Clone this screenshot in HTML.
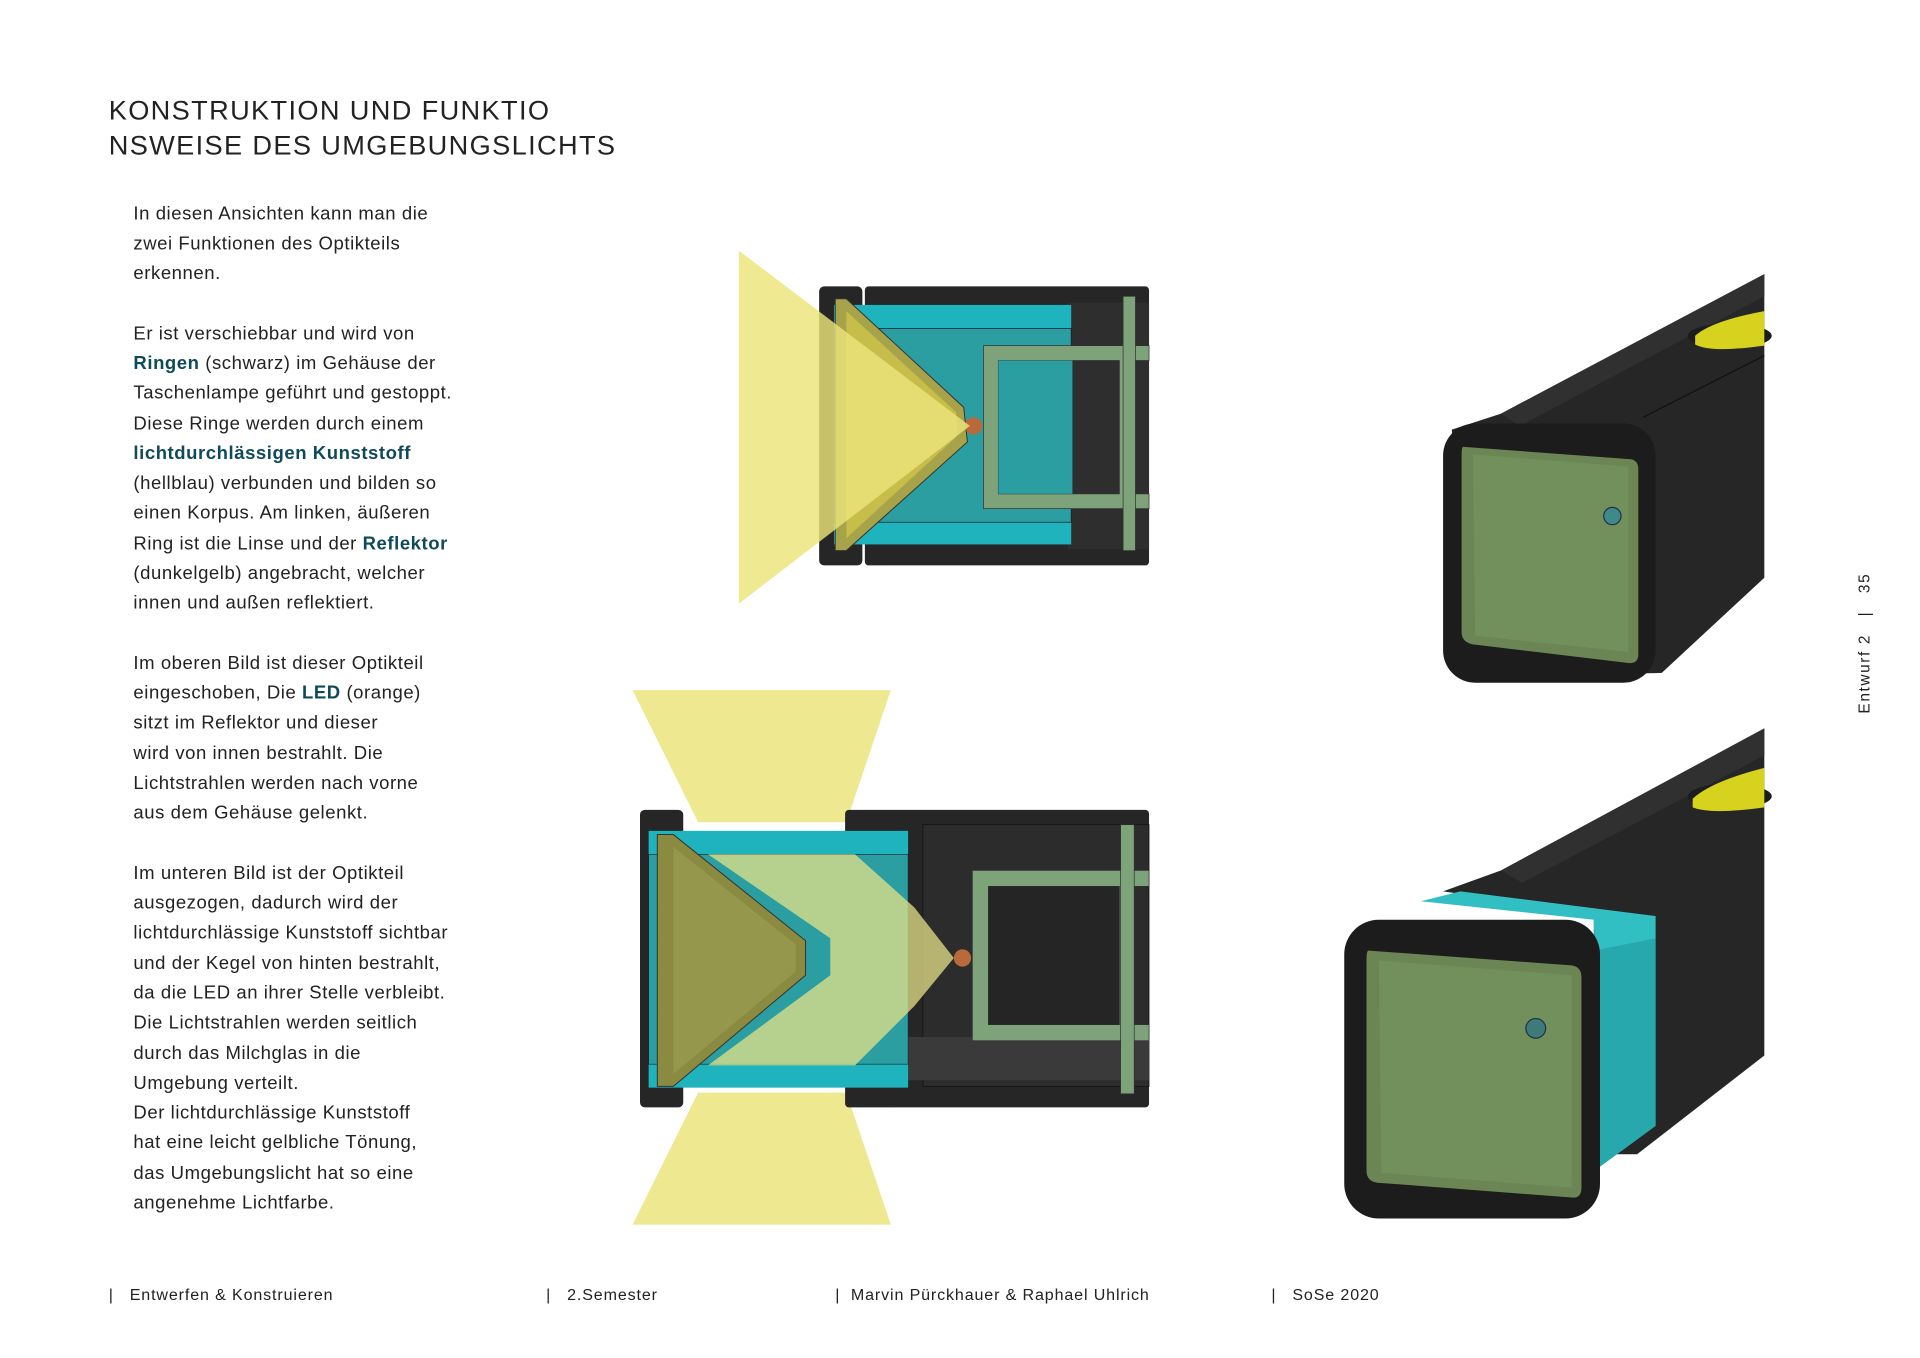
<!DOCTYPE html>
<html><head><meta charset="utf-8"><style>
html,body{margin:0;padding:0;background:#fff;}
svg{display:block;}
text{font-family:"Liberation Sans",sans-serif;fill:#222;}
.b{font-weight:bold;fill:#0f4a5a;}
</style></head><body>
<svg width="1920" height="1358" viewBox="0 0 1554 1100" preserveAspectRatio="none" xmlns="http://www.w3.org/2000/svg">
<rect width="1554" height="1100" fill="#fff"/>
<text x="88" y="97" font-size="22" letter-spacing="1.1">KONSTRUKTION UND FUNKTIO</text>
<text x="88" y="125" font-size="22" letter-spacing="1.1">NSWEISE DES UMGEBUNGSLICHTS</text>
<g font-size="15" letter-spacing="0.45">
<text x="108" y="178">In diesen Ansichten kann man die</text>
<text x="108" y="202">zwei Funktionen des Optikteils</text>
<text x="108" y="226">erkennen.</text>
<text x="108" y="275">Er ist verschiebbar und wird von</text>
<text x="108" y="299"><tspan class="b">Ringen</tspan> (schwarz) im Gehäuse der</text>
<text x="108" y="323">Taschenlampe geführt und gestoppt.</text>
<text x="108" y="348">Diese Ringe werden durch einem</text>
<text x="108" y="372"><tspan class="b">lichtdurchlässigen Kunststoff</tspan></text>
<text x="108" y="396">(hellblau) verbunden und bilden so</text>
<text x="108" y="420">einen Korpus. Am linken, äußeren</text>
<text x="108" y="445">Ring ist die Linse und der <tspan class="b">Reflektor</tspan></text>
<text x="108" y="469">(dunkelgelb)  angebracht, welcher</text>
<text x="108" y="493">innen und außen reflektiert.</text>
<text x="108" y="542">Im oberen Bild ist dieser Optikteil</text>
<text x="108" y="566">eingeschoben, Die <tspan class="b">LED</tspan> (orange)</text>
<text x="108" y="590">sitzt im Reflektor und dieser</text>
<text x="108" y="615">wird von innen bestrahlt. Die</text>
<text x="108" y="639">Lichtstrahlen werden nach vorne</text>
<text x="108" y="663">aus dem Gehäuse gelenkt.</text>
<text x="108" y="712">Im unteren Bild ist der Optikteil</text>
<text x="108" y="736">ausgezogen, dadurch wird der</text>
<text x="108" y="760">lichtdurchlässige Kunststoff sichtbar</text>
<text x="108" y="785">und der Kegel von hinten bestrahlt,</text>
<text x="108" y="809">da die LED an ihrer Stelle verbleibt.</text>
<text x="108" y="833">Die Lichtstrahlen werden seitlich</text>
<text x="108" y="858">durch das Milchglas in die</text>
<text x="108" y="882">Umgebung verteilt.</text>
<text x="108" y="906">Der lichtdurchlässige Kunststoff</text>
<text x="108" y="930">hat eine leicht gelbliche Tönung,</text>
<text x="108" y="955">das Umgebungslicht hat so eine</text>
<text x="108" y="979">angenehme Lichtfarbe.</text>
</g>
<g font-size="13" letter-spacing="0.7">
<text x="88" y="1053" xml:space="preserve">|   Entwerfen &amp; Konstruieren</text>
<text x="442" y="1053" xml:space="preserve">|   2.Semester</text>
<text x="676" y="1053" xml:space="preserve">|  Marvin Pürckhauer &amp; Raphael Uhlrich</text>
<text x="1029" y="1053" xml:space="preserve">|   SoSe 2020</text>
</g>
<text transform="translate(1513,578) rotate(-90)" font-size="12.5" letter-spacing="1.3" xml:space="preserve">Entwurf 2   |   35</text>

<g>
<rect x="663" y="232" width="35" height="226" rx="4" fill="#262626"/>
<rect x="700" y="232" width="230" height="226" rx="3" fill="#262626"/>
<rect x="864" y="245" width="66" height="200" fill="#2e2e2e"/>
<rect x="675" y="247" width="192" height="194" fill="#1fb3bd"/>
<rect x="675" y="266" width="192" height="157" fill="#2a9ea0" stroke="#123" stroke-width="0.6"/>
<path d="M796,280 H930 V292 H918 V400 H930 V412 H796 Z M808,292 V400 H906 V292 Z" fill="#7ea37a" stroke="#333" stroke-width="0.6"/>
<rect x="909" y="240" width="10" height="206" fill="#7ea37a" stroke="#333" stroke-width="0.6"/>
<rect x="808" y="292" width="60" height="108" fill="#2a9ea0"/>
<path d="M676,242 L685,242 L780,330 L783,358 L685,446 L676,446 Z" fill="#a7a34a" stroke="#333" stroke-width="0.8"/>
<path d="M685,252 L774,334 L774,354 L685,436 Z" fill="#c6bd4a"/>
<circle cx="788" cy="345" r="7" fill="#b86a3a"/>
<polygon points="598,203 785,345 598,489" fill="#ece47a" opacity="0.82"/>
</g>

<g>
<polygon points="512,559 721,559 685,666 565,666" fill="#eee890"/>
<polygon points="565,885 685,885 721,992 512,992" fill="#eee890"/>
<rect x="518" y="656" width="35" height="241" rx="4" fill="#262626"/>
<rect x="684" y="656" width="246" height="241" rx="3" fill="#262626"/>
<rect x="747" y="668" width="183" height="212" fill="#2c2c2c" stroke="#111" stroke-width="0.6"/>
<rect x="684" y="840" width="246" height="35" fill="#3a3a3a"/>
<path d="M787,705 H930 V718 H916 V830 H930 V843 H787 Z M800,718 V830 H906 V718 Z" fill="#7ea37a" stroke="#333" stroke-width="0.6"/>
<rect x="907" y="668" width="11" height="218" fill="#7ea37a" stroke="#333" stroke-width="0.6"/>
<rect x="800" y="718" width="106" height="112" fill="#252525"/>
<rect x="525" y="673" width="210" height="208" fill="#1fb3bd"/>
<rect x="525" y="692" width="210" height="170" fill="#2a9ea0" stroke="#123" stroke-width="0.5"/>
<path d="M532,676 L545,676 L652,762 L652,790 L545,880 L532,880 Z" fill="#8a8a40" stroke="#333" stroke-width="0.8"/>
<path d="M545,686 L644,765 L644,787 L545,870 Z" fill="#95974c"/>
<path d="M573,692 L692,692 L740,735 L772,776 L740,815 L692,863 L573,863 L672,790 L672,760 Z" fill="#e6e288" opacity="0.75"/>
<circle cx="779" cy="776" r="7" fill="#b86a3a"/>
</g>

<g>
<polygon points="1175,348 1215,335 1428,222 1428,468 1345,545 1200,550" fill="#262626"/>
<polygon points="1215,335 1428,222 1428,240 1230,345" fill="#303030"/>
<line x1="1330" y1="338" x2="1428" y2="288" stroke="#111" stroke-width="1"/>
<ellipse cx="1400" cy="272" rx="34" ry="10" fill="#1c1c1c"/>
<path d="M1372,272 Q1385,260 1428,252 L1428,280 Q1385,286 1372,279 Z" fill="#d6d21e"/>
<rect x="1168" y="343" width="172" height="210" rx="26" fill="#1c1c1c"/>
<path d="M1185,362 L1320,372 Q1326,373 1326,380 L1326,530 Q1326,538 1318,537 L1192,522 Q1183,520 1183,512 L1183,368 Q1183,361 1185,362 Z" fill="#6b8555"/>
<path d="M1192,368 L1318,378 L1318,528 L1194,515 Z" fill="#72905c"/>
<circle cx="1305" cy="418" r="7" fill="#3e8a8a" stroke="#234" stroke-width="1"/>
</g>

<g>
<polygon points="1168,722 1215,705 1428,590 1428,855 1325,935 1290,935 1290,740" fill="#262626"/>
<polygon points="1215,705 1428,590 1428,612 1232,715" fill="#303030"/>
<ellipse cx="1400" cy="645" rx="34" ry="10" fill="#1c1c1c"/>
<path d="M1370,647 Q1385,633 1428,622 L1428,654 Q1385,660 1370,654 Z" fill="#d6d21e"/>
<polygon points="1150,730 1182,722 1340,742 1340,912 1295,945 1290,745" fill="#32bfc4"/>
<polygon points="1290,770 1340,760 1340,912 1295,945" fill="#27a8ad"/>
<rect x="1088" y="745" width="207" height="242" rx="28" fill="#1c1c1c"/>
<path d="M1108,770 L1272,782 Q1280,783 1280,792 L1280,962 Q1280,971 1272,970 L1115,958 Q1106,957 1106,948 L1106,778 Q1106,769 1108,770 Z" fill="#6b8555"/>
<path d="M1116,778 L1272,790 L1272,962 L1118,950 Z" fill="#72905c"/>
<circle cx="1243" cy="833" r="8" fill="#3e7a7a" stroke="#234" stroke-width="1"/>
</g>
</svg>
</body></html>
